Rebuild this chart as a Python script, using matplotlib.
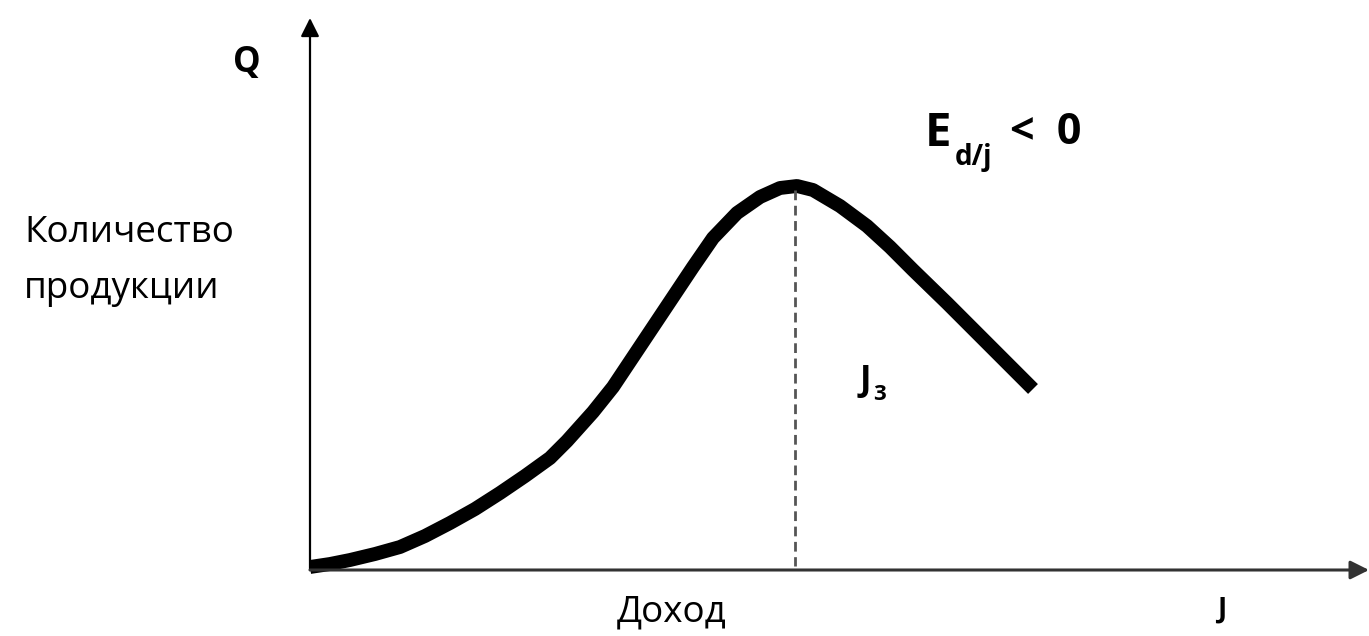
import matplotlib
matplotlib.use("Agg")
import matplotlib.pyplot as plt

plt.rcParams['font.family'] = ['Open Sans', 'DejaVu Sans']

# income (J) and quantity (Q), arbitrary units
income = [0, 20, 40, 65, 90, 115, 140, 165, 190, 215, 240, 257, 283, 303,
          323, 343, 363, 383, 403, 427, 450, 470, 487, 503, 530, 557, 580,
          603, 637, 670, 703, 723]
quantity = [3, 6, 10, 16, 23, 34, 47, 61, 77, 94, 112, 129, 158, 183,
            213, 243, 273, 303, 332, 357, 373, 382, 384, 380, 364, 344, 323,
            300, 267, 234, 201, 181]
peak_income = 485
peak_q = 380

y_label = "Количество\nпродукции"
x_label = "Доход"

fig = plt.figure(figsize=(13.69, 6.36), dpi=100)
ax = fig.add_axes([0, 0, 1, 1])
ax.set_xlim(-310, 1059)
ax.set_ylim(-66, 570)
ax.axis('off')

# axes with arrows
ax.annotate('', xy=(0, 552), xytext=(0, 0),
            arrowprops=dict(arrowstyle='-|>', color='black', lw=1.6,
                            mutation_scale=28, shrinkA=0, shrinkB=0))
ax.annotate('', xy=(1059, 0), xytext=(0, 0),
            arrowprops=dict(arrowstyle='-|>', color='#333333', lw=2.2,
                            mutation_scale=28, shrinkA=0, shrinkB=0))

ax.plot(income, quantity, color='black', lw=10, solid_capstyle='butt',
        solid_joinstyle='round')
ax.plot([peak_income, peak_income], [peak_q, 4], color='#555555', lw=2,
        linestyle=(0, (3.5, 2)))

ax.text(-63, 507, 'Q', fontsize=25, fontweight='bold', ha='center', va='center')
ax.text(-286, 309, y_label, fontsize=26.5, ha='left', va='center', linespacing=1.72)
ax.text(362, -42, x_label, fontsize=26.5, ha='center', va='center')
ax.text(912, -40, 'J', fontsize=20, fontweight='bold', ha='center', va='center')

ax.text(550, 188, 'J', fontsize=25, fontweight='bold', ha='left', va='center')
ax.text(563, 176, '3', fontsize=16, fontweight='bold', ha='left', va='center')

ax.text(615, 437, 'E', fontsize=34, fontweight='bold', ha='left', va='center')
ax.text(645, 412, 'd/j', fontsize=20, fontweight='bold', ha='left', va='center')
ax.text(700, 437, '<  0', fontsize=31, fontweight='bold', ha='left', va='center')

fig.savefig('out.png', dpi=100, facecolor='white')
